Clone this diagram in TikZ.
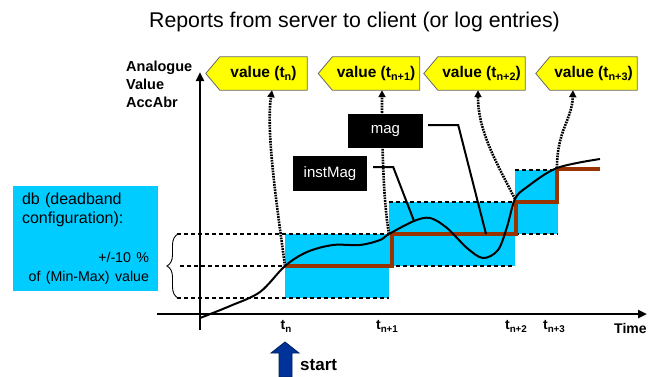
\documentclass[tikz,border=0pt]{standalone}
\usepackage{fontspec}
\setmainfont{Liberation Sans}
\usetikzlibrary{arrows.meta,decorations.pathreplacing,backgrounds}
\definecolor{cyanbox}{HTML}{00CCFF}
\definecolor{brownline}{HTML}{993300}
\definecolor{flagyellow}{HTML}{FFFF00}
\definecolor{startblue}{HTML}{003399}
\newcommand{\sbs}[1]{\raisebox{-0.45ex}{\scalebox{0.7}{#1}}}
\begin{document}
\begin{tikzpicture}[x=1pt,y=-1pt,
  axis/.style={line width=2.4pt,-{Triangle[length=9pt,width=8pt]}},
  dashline/.style={line width=1.4pt,dash pattern=on 4pt off 3pt},
  dotarrow/.style={line width=2.6pt,dash pattern=on 1.7pt off 1pt,-{Triangle[length=7pt,width=7pt]}},
  band/.style={fill=cyanbox},
  stepline/.style={draw=brownline,line width=4pt},
  valcurve/.style={line width=2pt},
  pointer/.style={line width=2pt},
  flagtxt/.style={font=\fontsize{15.5}{18}\bfseries\selectfont,minimum width=87pt,minimum height=33pt,inner sep=0pt},
  flagshape/.style={fill=flagyellow,draw=black!60,line width=0.8pt},
  tagbox/.style={fill=black,text=white,font=\fontsize{15}{18}\selectfont,inner sep=0pt},
  tlabel/.style={font=\fontsize{14}{16}\bfseries\selectfont,anchor=base,inner sep=0pt},
  dbbox/.style={fill=cyanbox,text width=127pt,inner xsep=9pt,inner ysep=0pt,minimum height=105pt,align=left,font=\fontsize{16}{19}\selectfont}
]
\useasboundingbox (0,0) rectangle (654,376);

% title
\node[font=\fontsize{21.3}{25}\selectfont,anchor=base,inner sep=0pt] (title) at (354.5,27) {Reports from server to client (or log entries)};

% axis label
\node[font=\fontsize{14.5}{18}\bfseries\selectfont,anchor=north west,align=left,inner sep=0pt] (ylabel) at (126,60.5) {Analogue\\Value\\AccAbr};

% deadband bands
\fill[band] (285,234) rectangle (389,298);
\fill[band] (389,202) rectangle (515,266);
\fill[band] (515,170) rectangle (558,234);

% dashed levels
\draw[dashline] (177,234) -- (389,234);
\draw[dashline] (180,266) -- (285,266);
\draw[dashline] (177,298) -- (389,298);
\draw[dashline] (389,202) -- (515,202);
\draw[dashline] (389,266) -- (515,266);
\draw[dashline] (515,170) -- (558,170);
\draw[dashline] (515,234) -- (558,234);

% brace
\draw[line width=0.9pt,decorate,decoration={brace,amplitude=11pt}] (178,298) -- (178,234);

% db box
\node[dbbox] (db) at (85.5,238.5) {db (deadband\\configuration):\\[21pt]\fontsize{14.2}{18}\selectfont\hspace*{\fill}+/-10 \%\\\hspace*{\fill}of (Min-Max) value};

% axes
\coordinate (yb) at (200,330);
\coordinate (yt) at (200,72);
\coordinate (xl) at (157,314);
\coordinate (xr) at (647,314);
\draw[axis] (yb) -- (yt);
\draw[axis] (xl) -- (xr);

% reported value (step line)
\draw[stepline] (285,266) -- (392,266) -- (392,234) -- (516,234) -- (516,202) -- (557,202) -- (557,169) -- (600,169);

% curve points
\coordinate (p1) at (285,266);
\coordinate (p2) at (389,234);
\coordinate (p3) at (515,199);
\coordinate (p4) at (557,168);
\coordinate (ipt) at (414,221);
\coordinate (mpt) at (486,234);

% instantaneous value curve
\draw[valcurve] plot[smooth,tension=0.55] coordinates {(200,318) (230,306) (260,292) (285,266) (307,252) (333,245) (360,245) (380,240) (389,234) (414,221) (430,218) (447,228) (467,248) (483,258) (498,250) (507,227) (515,199) (527,187) (557,168) (600,159)};

% flags
\node[flagtxt] (f1) at (263.5,73.5) {value (t\sbs{n})};
\node[flagtxt] (f2) at (376,73.5) {value (t\sbs{n+1})};
\node[flagtxt] (f3) at (481.5,73.5) {value (t\sbs{n+2})};
\node[flagtxt] (f4) at (593.5,73.5) {value (t\sbs{n+3})};
\begin{pgfonlayer}{background}
\foreach \f in {f1,f2,f3,f4}{
  \draw[flagshape] (\f.north west) -- (\f.north east) -- (\f.south east) -- (\f.south west) -- ([xshift=-14pt]\f.west) -- cycle;
}
\end{pgfonlayer}

% dotted report arrows
\draw[dotarrow] (p1) .. controls (276,200) and (266,130) .. ([xshift=8.5pt]f1.south);
\draw[dotarrow] (p2) .. controls (383,200) and (382,140) .. ([xshift=6pt]f2.south);
\draw[dotarrow] (p3) .. controls (495,160) and (478,130) .. ([xshift=-3.5pt]f3.south);
\draw[dotarrow] (p4) .. controls (557,130) and (572,120) .. ([xshift=-20.5pt]f4.south);

% mag / instMag tags
\node[tagbox,minimum width=75pt,minimum height=34pt] (mag) at (385.5,131) {mag};
\node[tagbox,minimum width=74pt,minimum height=35pt] (inst) at (330,173.5) {instMag};
\draw[pointer] ([xshift=5pt,yshift=6pt]mag.east) -- ++(30,0) -- (mpt);
\draw[pointer] ([xshift=6pt,yshift=6.5pt]inst.east) -- ++(20,0) -- (ipt);

% time labels
\node[tlabel] (tn) at (286,329) {t\sbs{n}};
\node[tlabel] (tn1) at (387,329) {t\sbs{n+1}};
\node[tlabel] (tn2) at (516,329) {t\sbs{n+2}};
\node[tlabel] (tn3) at (554,329) {t\sbs{n+3}};
\node[font=\fontsize{14}{16}\bfseries\selectfont,anchor=base west,inner sep=0pt] (time) at (614,333) {Time};

% start arrow
\draw[fill=startblue,draw=startblue!60!black,line width=0.8pt] (285,342) -- (299,353) -- (292,353) -- (292,377) -- (279,377) -- (279,353) -- (271,353) -- cycle;
\node[font=\fontsize{17}{20}\bfseries\selectfont,anchor=base west,inner sep=0pt] (start) at (300,370) {start};
\end{tikzpicture}
\end{document}
